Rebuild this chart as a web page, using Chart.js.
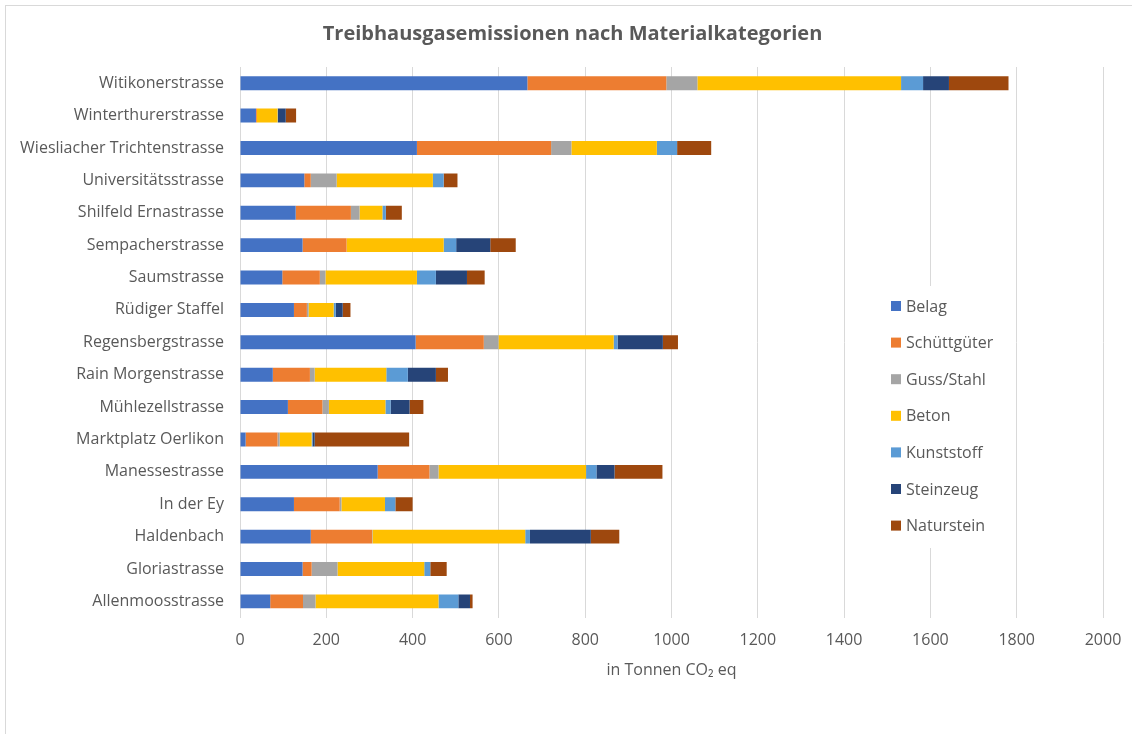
<!DOCTYPE html>
<html>
<head>
<meta charset="utf-8">
<script src="https://cdn.jsdelivr.net/npm/chart.js@4.4.1/dist/chart.umd.min.js"></script>
<style>
  body { margin: 0; overflow: hidden; background: #fff; }
  #rahmen { position: absolute; left: 5px; top: 5px; width: 1300px; height: 900px; border: 1px solid #d9d9d9; }
  #grafico { position: absolute; left: 0; top: 0; }
</style>
</head>
<body>
<div id="rahmen"></div>
<canvas id="grafico" width="1145" height="734"></canvas>
<script>
// Strassen (von oben nach unten)
var strassen = [
  "Witikonerstrasse", "Winterthurerstrasse", "Wiesliacher Trichtenstrasse", "Universitätsstrasse",
  "Shilfeld Ernastrasse", "Sempacherstrasse", "Saumstrasse", "Rüdiger Staffel", "Regensbergstrasse",
  "Rain Morgenstrasse", "Mühlezellstrasse", "Marktplatz Oerlikon", "Manessestrasse", "In der Ey",
  "Haldenbach", "Gloriastrasse", "Allenmoosstrasse"
];

// Werte in Tonnen CO2 eq pro Materialkategorie
var belag       = [666, 37, 410, 149, 129, 145,  98, 125, 407,  76, 111,  13, 319, 125, 164, 145,  70];
var schuettgut  = [322,  2, 311,  15, 128, 102,  87,  30, 158,  86,  80,  74, 120, 106, 142,  21,  76];
var gussStahl   = [ 72,  0,  47,  60,  20,   0,  13,   4,  34,  11,  15,   5,  21,   4,   1,  60,  29];
var beton       = [472, 48, 198, 223,  53, 225, 212,  58, 267, 166, 131,  74, 342, 101, 354, 201, 285];
var kunststoff  = [ 51,  1,  47,  25,   8,  29,  44,   5,   9,  50,  12,   2,  24,  24,  11,  14,  46];
var steinzeug   = [ 60, 18,   0,   0,   0,  79,  72,  16, 105,  65,  44,   5,  42,   0, 141,   0,  27];
var naturstein  = [138, 24,  79,  32,  37,  59,  41,  18,  35,  28,  32, 219, 111,  40,  66,  38,   6];

var categorias = ["Belag", "Schüttgüter", "Guss/Stahl", "Beton", "Kunststoff", "Steinzeug", "Naturstein"];
var cores = ["#4472C4", "#ED7D31", "#A5A5A5", "#FFC000", "#5B9BD5", "#264478", "#9E480E"];
var series = [belag, schuettgut, gussStahl, beton, kunststoff, steinzeug, naturstein];

var cinza = "#595959";
var fonte = "'Open Sans', sans-serif";

// Legende innerhalb der Zeichenfläche (wie im Excel-Original)
var legendePlugin = {
  id: "legendeInterna",
  afterDraw(chart) {
    const ctx = chart.ctx;
    ctx.save();
    ctx.fillStyle = "#fff";
    ctx.fillRect(876, 286, 136, 262);
    ctx.font = "16px " + fonte;
    ctx.textBaseline = "middle";
    categorias.forEach((nome, i) => {
      const y = 306 + i * 36.6;
      ctx.fillStyle = cores[i];
      ctx.fillRect(891, y - 5, 10, 10);
      ctx.fillStyle = cinza;
      ctx.fillText(nome, 906, y + 1);
    });
    ctx.restore();
  }
};

const data = {
  labels: strassen,
  datasets: categorias.map((nome, i) => ({
    label: nome,
    data: series[i],
    backgroundColor: cores[i],
    borderWidth: 0,
    barPercentage: 0.43,
    categoryPercentage: 1,
  })),
};

const options = {
  indexAxis: "y",
  responsive: false,
  animation: false,
  layout: { padding: { left: 0, right: 0, top: 0, bottom: 54 } },
  plugins: {
    legend: { display: false },
    tooltip: { enabled: false },
    title: {
      display: true,
      text: "Treibhausgasemissionen nach Materialkategorien",
      color: cinza,
      font: { family: fonte, size: 20, weight: "bold" },
      padding: { top: 22, bottom: 21 },
    },
  },
  scales: {
    x: {
      stacked: true,
      min: 0,
      max: 2000,
      ticks: {
        stepSize: 200,
        color: cinza,
        font: { family: fonte, size: 16 },
        padding: 13,
        callback: (valor) => String(valor),
      },
      grid: { color: "#d9d9d9", drawTicks: false },
      border: { display: false },
      title: {
        display: true,
        text: "in Tonnen CO₂ eq",
        color: cinza,
        font: { family: fonte, size: 16 },
        padding: { top: -2, bottom: 0 },
      },
      // rechter Rand der Zeichenfläche, damit der Titel über die ganze Breite zentriert bleibt
      afterFit(scale) { scale.paddingRight = 42; },
    },
    y: {
      stacked: true,
      ticks: { color: cinza, font: { family: fonte, size: 16 }, padding: 16 },
      grid: { display: false, drawTicks: false },
      border: { display: true, color: "#d9d9d9" },
      afterFit(scale) { scale.width = 240; },
    },
  },
};

new Chart(document.getElementById("grafico"), {
  type: "bar",
  data: data,
  options: options,
  plugins: [legendePlugin],
});
</script>
</body>
</html>
